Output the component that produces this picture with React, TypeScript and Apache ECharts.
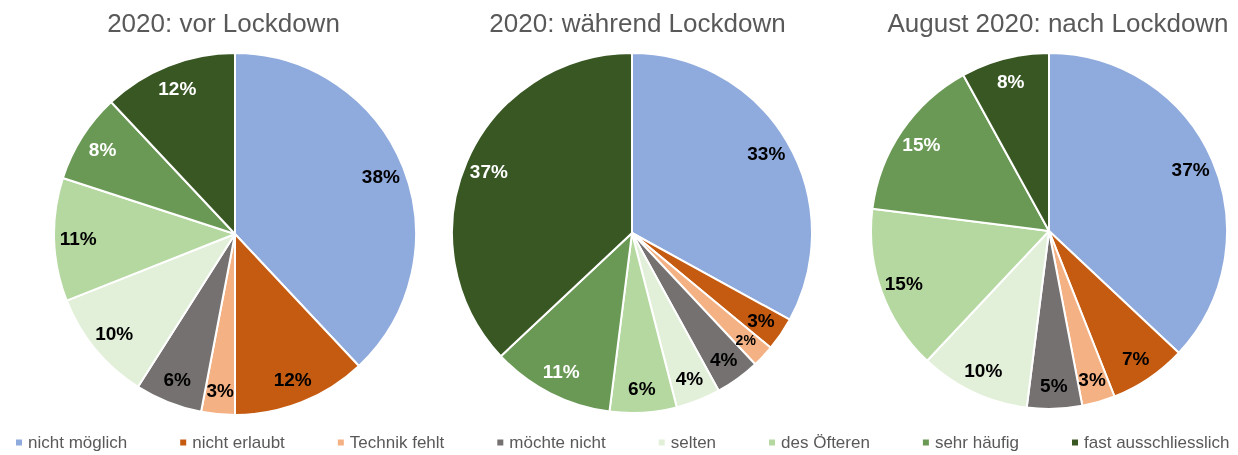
import React, { useEffect, useRef } from "react";
import * as echarts from "echarts";

const categories = [
  "nicht möglich",
  "nicht erlaubt",
  "Technik fehlt",
  "möchte nicht",
  "selten",
  "des Öfteren",
  "sehr häufig",
  "fast ausschliesslich",
];
const colors = ["#8FAADC", "#C55A11", "#F4B183", "#767171", "#E2F0D9", "#B4D8A0", "#6A9955", "#385723"];
const labelColors = ["#000", "#000", "#000", "#000", "#000", "#000", "#fff", "#fff"];

const titles = ["2020: vor Lockdown", "2020: während Lockdown", "August 2020: nach Lockdown"];
const vorLockdown = [38, 12, 3, 6, 10, 11, 8, 12];
const waehrendLockdown = [33, 3, 2, 4, 4, 6, 11, 37];
const nachLockdown = [37, 7, 3, 5, 10, 15, 15, 8];

const FONT = "'Liberation Sans', Arial, sans-serif";

export default function App() {
  const ref = useRef<HTMLDivElement>(null);
  useEffect(() => {
    if (!ref.current) return;
    const chart = echarts.init(ref.current, undefined, { renderer: "svg" });
    const pies = [
      { values: vorLockdown, cx: 235, cy: 234, r: 181, tx: 223.5 },
      { values: waehrendLockdown, cx: 632, cy: 233, r: 180, tx: 637.5 },
      { values: nachLockdown, cx: 1049, cy: 231, r: 178, tx: 1058 },
    ];
    const series: any[] = [];
    pies.forEach((p) => {
      series.push({
        type: "pie",
        center: [p.cx, p.cy],
        radius: [0, p.r],
        startAngle: 90,
        clockwise: true,
        silent: true,
        label: { show: false },
        labelLine: { show: false },
        itemStyle: { borderColor: "#fff", borderWidth: 2 },
        data: p.values.map((v, i) => ({ name: categories[i], value: v, itemStyle: { color: colors[i] } })),
      });
      series.push({
        type: "pie",
        center: [p.cx, p.cy],
        radius: [p.r * 0.7, p.r],
        startAngle: 90,
        clockwise: true,
        silent: true,
        z: 5,
        labelLine: { show: false },
        itemStyle: { color: "rgba(0,0,0,0)", borderWidth: 0 },
        label: {
          show: true,
          position: "inside",
          fontFamily: FONT,
          fontWeight: "bold",
          fontSize: 19,
          formatter: (d: any) => d.value + "%",
        },
        data: p.values.map((v, i) => ({
          name: categories[i],
          value: v,
          label: { color: labelColors[i], fontSize: v <= 2 ? 14 : 19 },
        })),
      });
    });
    chart.setOption({
      animation: false,
      graphic: pies.map((p, i) => ({
        type: "text",
        x: p.tx,
        y: 23,
        style: {
          text: titles[i],
          font: "26px " + FONT,
          fill: "#595959",
          textAlign: "center",
          textVerticalAlign: "middle",
          align: "center",
          verticalAlign: "middle",
        },
      })),
      legend: {
        left: 14,
        top: 434,
        padding: 0,
        itemWidth: 8,
        itemHeight: 8,
        itemGap: 51,
        icon: "rect",
        textStyle: { fontFamily: FONT, fontSize: 17, color: "#595959" },
        data: categories.map((c, i) => ({ name: c, itemStyle: { color: colors[i] } })),
      },
      series,
    });
    return () => chart.dispose();
  }, []);
  return <div ref={ref} style={{ position: "fixed", left: 0, top: 0, width: 1238, height: 455 }} />;
}
